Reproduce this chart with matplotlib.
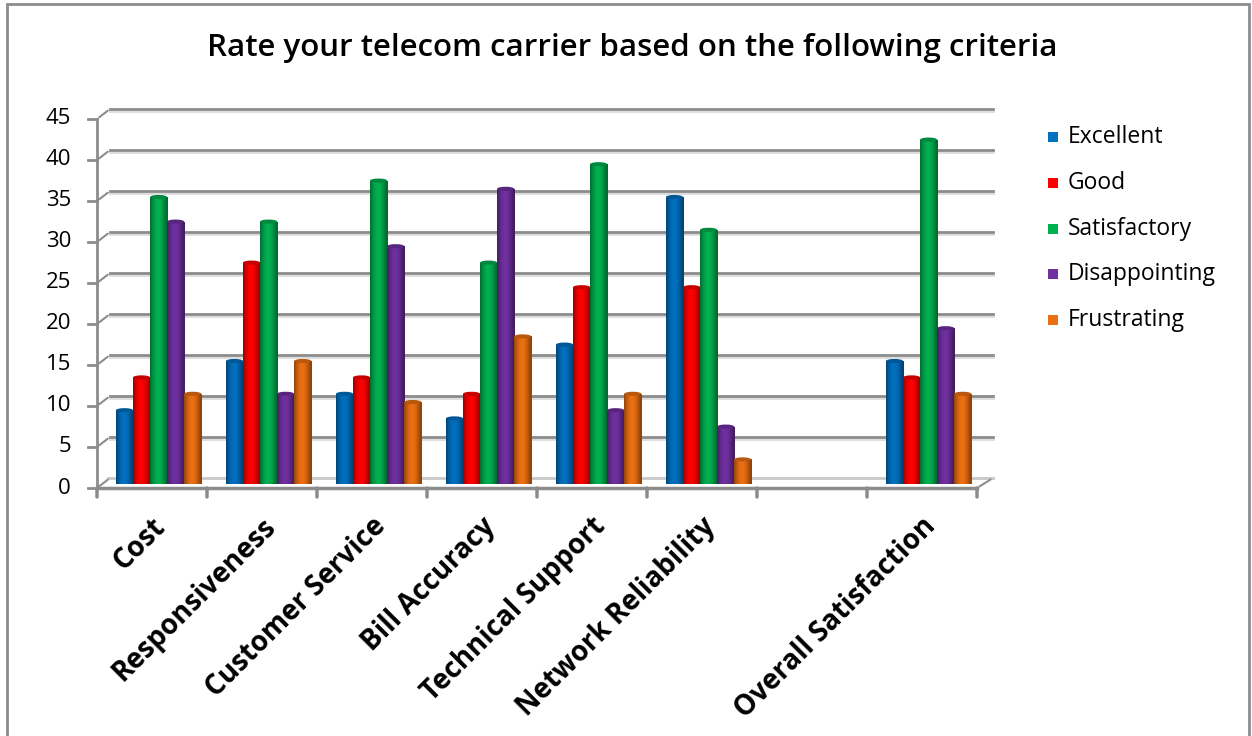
import numpy as np
import matplotlib
matplotlib.use("Agg")
import matplotlib.pyplot as plt
from matplotlib.patches import Ellipse, Rectangle
from matplotlib.transforms import offset_copy
from matplotlib.colors import to_rgb

plt.rcParams['font.family'] = ['Open Sans', 'DejaVu Sans']

# data
categories = ['Cost', 'Responsiveness', 'Customer Service', 'Bill Accuracy',
              'Technical Support', 'Network Reliability', '', 'Overall Satisfaction']
series = ['Excellent', 'Good', 'Satisfactory', 'Disappointing', 'Frustrating']
excellent = [9, 15, 11, 8, 17, 35, None, 15]
good = [13, 27, 13, 11, 24, 24, None, 13]
satisfactory = [35, 32, 37, 27, 39, 31, None, 42]
disappointing = [32, 11, 29, 36, 9, 7, None, 19]
frustrating = [11, 15, 10, 18, 11, 3, None, 11]
yticks = [0, 5, 10, 15, 20, 25, 30, 35, 40, 45]

values = [excellent, good, satisfactory, disappointing, frustrating]
colors = ['#0070C0', '#FF0000', '#00B050', '#7030A0', '#EC7012']

W, H = 1252, 736
fig = plt.figure(figsize=(W / 100, H / 100), dpi=100)
fig.patch.set_facecolor('white')

# axes: front x from 97 to 977 px, y=0 at 484 px, y=45 at 115 px
ax = fig.add_axes([97 / W, (H - 484) / H, 880 / W, (484 - 115) / H])
ax.set_xlim(-0.5, len(categories) - 0.5)
ax.set_ylim(0, 45)
ax.axis('off')

ytr = ax.get_yaxis_transform()
back = offset_copy(ytr, fig=fig, x=0, y=6, units='dots')
front = offset_copy(ytr, fig=fig, x=0, y=-4, units='dots')
xfr = lambda px: (px - 97) / 880.0

# back wall gridlines
for v in yticks:
    if v == 0:
        ax.plot([xfr(108), xfr(993)], [v, v], color='#c8c8c8', lw=2,
                transform=back, clip_on=False, zorder=1)
    else:
        ax.plot([xfr(110), xfr(993)], [v, v], color='#dcdcdc', lw=2,
                transform=offset_copy(back, fig=fig, x=0, y=-2, units='dots'),
                clip_on=False, zorder=1)
        ax.plot([xfr(110), xfr(993)], [v, v], color='#8c8c8c', lw=2,
                transform=back, clip_on=False, zorder=1)

# left axis with perspective ticks
ax.plot([0, 0], [0, 45], color='#8c8c8c', lw=2, transform=front, clip_on=False)
for v in yticks:
    ax.plot([xfr(88), 0], [v, v], color='#8c8c8c', lw=2, transform=front, clip_on=False)
    ax.annotate('', xy=(xfr(110), v), xycoords=back, xytext=(0, v),
                textcoords=front, arrowprops=dict(arrowstyle='-', color='#8c8c8c', lw=1.5))
    ax.text(xfr(71), v, str(v), transform=front, ha='right', va='center',
            fontsize=16, color='black')

# floor front edge + category ticks
ax.plot([0, 1], [0, 0], color='#8c8c8c', lw=2.5, transform=front, clip_on=False)
ax.annotate('', xy=(xfr(993), 0), xycoords=back, xytext=(1, 0), textcoords=front,
            arrowprops=dict(arrowstyle='-', color='#8c8c8c', lw=1.5))
tick_tr = offset_copy(ax.transData, fig=fig, x=0, y=-4, units='dots')
for i in range(len(categories) + 1):
    ax.annotate('', xy=(i - 0.5, 0), xycoords=tick_tr, xytext=(0, -9),
                textcoords='offset pixels',
                arrowprops=dict(arrowstyle='-', color='#8c8c8c', lw=2.5,
                                shrinkA=0, shrinkB=0))

# cylinder-ish bars
bw = 0.155
x = np.arange(len(categories))
for j, (vals, col) in enumerate(zip(values, colors)):
    base = np.array(to_rgb(col))
    prof = np.linspace(0, 1, 40)
    shade = 0.62 + 0.5 * np.sin(np.pi * np.clip(prof * 1.1, 0, 1)) * 0.76
    grad = np.clip(base[None, :] * shade[:, None], 0, 1)[None, :, :]
    h = [np.nan if v is None else v for v in vals]
    bars = ax.bar(x + (j - 2) * bw + 0.06, h, width=bw, color=col,
                  edgecolor='none', zorder=3)
    for b, v in zip(bars, vals):
        if v is None:
            continue
        x0 = b.get_x()
        im = ax.imshow(grad, extent=(x0, x0 + bw, 0, v), aspect='auto',
                       zorder=3.5, interpolation='bilinear')
        im.set_clip_path(b)
        cap = tuple(base * 0.78)
        ax.add_patch(Ellipse((x0 + bw / 2, v), bw, 0.5, facecolor=cap,
                             edgecolor='none', zorder=4))

ax.set_xlim(-0.5, len(categories) - 0.5)
ax.set_ylim(0, 45)

# category labels
for i, c in enumerate(categories):
    ax.annotate(c, xy=(i - 0.01, 0), xycoords=tick_tr, xytext=(0, -24),
                textcoords='offset pixels', rotation=45, rotation_mode='anchor',
                ha='right', va='top', fontsize=20, fontweight='bold')

# legend
leg_y = [137, 183, 229, 274, 320]
for name, col, py in zip(series, colors, leg_y):
    fig.add_artist(Rectangle(((1048) / W, (H - py - 5) / H), 10 / W, 10 / H,
                             transform=fig.transFigure, facecolor=col, edgecolor='none'))
    fig.text(1068 / W, (H - py) / H, name, ha='left', va='center', fontsize=16.5)

# title
fig.text(632 / W, (H - 48) / H, 'Rate your telecom carrier based on the following criteria',
         ha='center', va='center', fontsize=22.5, fontweight='semibold')

# chart border
fig.add_artist(Rectangle((7 / W, -0.05), (1249 - 7) / W, (H - 4) / H + 0.05,
                         transform=fig.transFigure, fill=False, edgecolor='#8c8c8c', lw=2))

fig.savefig('out.png', dpi=100)
